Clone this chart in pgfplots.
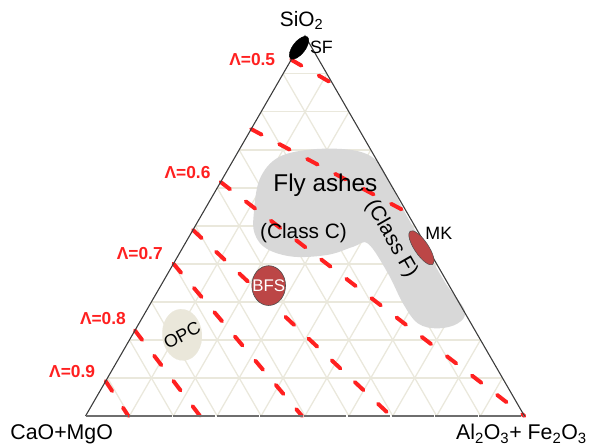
\documentclass[border=0pt]{standalone}
\usepackage{pgfplots}
\pgfplotsset{compat=1.18}
\usepackage{fontspec}
\setmainfont{Liberation Sans}
\definecolor{gridc}{RGB}{234,232,220}
\definecolor{lamred}{RGB}{255,32,32}
\definecolor{flygray}{RGB}{216,216,216}
\definecolor{bfsred}{RGB}{188,70,70}
\definecolor{opcbeige}{RGB}{234,231,218}
\definecolor{edgec}{RGB}{60,60,60}
\definecolor{basec}{RGB}{110,110,110}
\begin{document}
\begin{tikzpicture}
\begin{axis}[
  set layers,
  scale only axis, width=590bp, height=448bp,
  xmin=0, xmax=590, ymin=0, ymax=448,
  hide axis, clip=false,
  unbounded coords=jump,
  lam/.style={lamred, line width=4pt, line cap=round, dash pattern=on 12pt off 20pt},
]
\addplot[draw=none] coordinates {(0,0) (590,448)};
% ---- ternary grid (10 % steps)
\addplot[gridc, line width=1.3pt] coordinates {
 (108.05,68.2) (504.95,68.2) (nan,nan)
 (130.1,106.4) (482.9,106.4) (nan,nan)
 (152.15,144.6) (460.85,144.6) (nan,nan)
 (174.2,182.8) (438.8,182.8) (nan,nan)
 (196.25,221.0) (416.75,221.0) (nan,nan)
 (218.3,259.2) (394.7,259.2) (nan,nan)
 (240.35,297.4) (372.65,297.4) (nan,nan)
 (262.4,335.6) (350.6,335.6) (nan,nan)
 (284.45,373.8) (328.55,373.8)};
\addplot[gridc, line width=1.3pt] coordinates {
 (130.1,30) (328.55,373.8) (nan,nan)
 (174.2,30) (350.6,335.6) (nan,nan)
 (218.3,30) (372.65,297.4) (nan,nan)
 (262.4,30) (394.7,259.2) (nan,nan)
 (306.5,30) (416.75,221.0) (nan,nan)
 (350.6,30) (438.8,182.8) (nan,nan)
 (394.7,30) (460.85,144.6) (nan,nan)
 (438.8,30) (482.9,106.4) (nan,nan)
 (482.9,30) (504.95,68.2)};
\addplot[gridc, line width=1.3pt] coordinates {
 (130.1,30) (108.05,68.2) (nan,nan)
 (174.2,30) (130.1,106.4) (nan,nan)
 (218.3,30) (152.15,144.6) (nan,nan)
 (262.4,30) (174.2,182.8) (nan,nan)
 (306.5,30) (196.25,221.0) (nan,nan)
 (350.6,30) (218.3,259.2) (nan,nan)
 (394.7,30) (240.35,297.4) (nan,nan)
 (438.8,30) (262.4,335.6) (nan,nan)
 (482.9,30) (284.45,373.8)};
% ---- fly ash region
\addplot[fill=flygray, draw=none, smooth cycle, tension=0.6] coordinates {
 (255,233) (261,268) (280,290) (315,298) (355,297) (378,287) (392,264)
 (405,238) (425,203) (448,163) (467,136) (460,123) (440,118) (420,123)
 (405,143) (390,173) (370,203) (355,200) (330,192) (295,190) (268,198) (256,213)};
% ---- Lambda iso-lines
\addplot[lam] coordinates {(292.6,388) (334.2,364)};
\addplot[lam] coordinates {(252.4,318.3) (408.8,234.8)};
\addplot[lam] coordinates {(221.7,265.1) (527,30)};
\addplot[lam] coordinates {(193.9,216.9) (392.9,30)};
\addplot[lam] coordinates {(174.3,183) (303.5,30)};
\addplot[lam] coordinates {(135.6,115.9) (201,30)};
\addplot[lam] coordinates {(106.2,65) (129,30)};
% ---- material fields
\addplot[only marks, mark=*, mark size=20, mark options={fill=opcbeige, draw=opcbeige, line width=0.1pt, rotate=5, yscale=1.3}] coordinates {(183,111.5)};
\addplot[only marks, mark=*, mark size=17, mark options={fill=bfsred, draw=black!70, line width=0.6pt, yscale=1.18}] coordinates {(270,161)};
\addplot[only marks, mark=*, mark size=7, mark options={fill=bfsred, draw=black!70, line width=0.5pt, rotate=-56, xscale=2.9}] coordinates {(423.5,199)};
% ---- triangle edges
\addplot[edgec, line width=1.1pt] coordinates {(86,30) (306.5,412) (527,30)};
\addplot[basec, line width=2.6pt, dash pattern=on 42.6pt off 1.5pt] coordinates {(86,30) (527,30)};
\addplot[only marks, mark=*, mark size=6.3, mark options={fill=black, draw=black, rotate=52, xscale=2.2}] coordinates {(300.5,400)};
% ---- texts
\begin{pgfonlayer}{axis foreground}
\node[anchor=base, font=\fontsize{21}{24}\selectfont] at (axis cs:303,421) {SiO\textsubscript{2}};
\node[font=\fontsize{18}{21}\selectfont] at (axis cs:323,400) {SF};
\node[anchor=base, font=\fontsize{21.5}{24}\selectfont] at (axis cs:62,6) {CaO+MgO};
\node[anchor=base, font=\fontsize{21.5}{24}\selectfont] at (axis cs:524,6) {Al\textsubscript{2}O\textsubscript{3}+ Fe\textsubscript{2}O\textsubscript{3}};
\node[font=\fontsize{24.5}{28}\selectfont] at (axis cs:327,262) {Fly ashes};
\node[font=\fontsize{21}{24}\selectfont] at (axis cs:305,214) {(Class C)};
\node[font=\fontsize{21}{24}\selectfont, rotate=-60] at (axis cs:393,208) {(Class F)};
\node[font=\fontsize{18}{21}\selectfont] at (axis cs:441,213) {MK};
\node[font=\fontsize{17}{20}\selectfont, text=white] at (axis cs:270,161) {BFS};
\node[font=\fontsize{18}{21}\selectfont, rotate=28] at (axis cs:183,111) {OPC};
\node[anchor=east, font=\bfseries\fontsize{17.5}{21}\selectfont, text=lamred] at (axis cs:280,388) {Λ=0.5};
\node[anchor=east, font=\bfseries\fontsize{17.5}{21}\selectfont, text=lamred] at (axis cs:215,275) {Λ=0.6};
\node[anchor=east, font=\bfseries\fontsize{17.5}{21}\selectfont, text=lamred] at (axis cs:167,193) {Λ=0.7};
\node[anchor=east, font=\bfseries\fontsize{17.5}{21}\selectfont, text=lamred] at (axis cs:130,128) {Λ=0.8};
\node[anchor=east, font=\bfseries\fontsize{17.5}{21}\selectfont, text=lamred] at (axis cs:99,75) {Λ=0.9};
\end{pgfonlayer}
\end{axis}
\end{tikzpicture}
\end{document}
